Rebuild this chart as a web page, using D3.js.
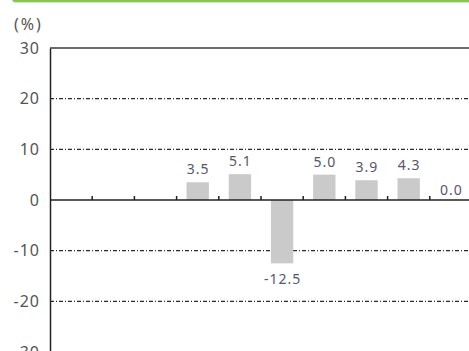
<!DOCTYPE html>
<html><head><meta charset="utf-8">
<script src="https://cdn.jsdelivr.net/npm/d3@7"></script>
<style>
html,body{margin:0;padding:0;background:#fff;overflow:hidden;}
text{font-family:"Noto Sans","Open Sans",sans-serif;}
</style></head>
<body><svg id="c" width="469" height="351"></svg>
<script>
const categories = ["c1","c2","c3","c4","c5","c6","c7","c8","c9","c10"];
const values = [null, null, null, 3.5, 5.1, -12.5, 5.0, 3.9, 4.3, 0.0];
const yTicks = [30, 20, 10, 0, -10, -20, -30];
const unitLabel = "(%)";

const svg = d3.select("#c");
const mLeft = 50, mRight = 472, mTop = 48, mBottom = 352;

const x = d3.scaleBand().domain(categories).range([mLeft, mRight]).paddingInner(0.47).paddingOuter(0.235);
const y = d3.scaleLinear().domain([-30, 30]).range([mBottom, mTop]);
const step = x.step();
const edge = c => x(c) - (step - x.bandwidth()) / 2;

// green top rule
svg.append("rect").attr("x", 12).attr("y", -3).attr("width", 470).attr("height", 5)
  .attr("rx", 3).attr("fill", "#86c54f");
svg.append("line").attr("x1", 14).attr("x2", 469).attr("y1", 2.5).attr("y2", 2.5)
  .attr("stroke", "#d2eac0").attr("stroke-width", 1);

// gridlines
const grid = yTicks.filter(t => t !== 0 && t !== 30 && t !== -30);
svg.append("g").selectAll("line").data(grid).join("line")
  .attr("x1", mLeft).attr("x2", 469)
  .attr("y1", d => y(d)).attr("y2", d => y(d))
  .attr("stroke", "#2a2a2a").attr("stroke-width", 1.2)
  .attr("stroke-dasharray", "4,2,1,2");

// top border
svg.append("line").attr("x1", mLeft).attr("x2", 469).attr("y1", y(30)).attr("y2", y(30))
  .attr("stroke", "#3a3a3a").attr("stroke-width", 1.6);

// bars
const data = categories.map((c, i) => ({c, v: values[i]})).filter(d => d.v !== null);
svg.append("g").selectAll("rect").data(data).join("rect")
  .attr("x", d => x(d.c)).attr("width", x.bandwidth())
  .attr("y", d => y(Math.max(0, d.v)))
  .attr("height", d => Math.abs(y(d.v) - y(0)))
  .attr("fill", "#cacaca");

// zero line
svg.append("line").attr("x1", mLeft).attr("x2", 469).attr("y1", y(0)).attr("y2", y(0))
  .attr("stroke", "#222").attr("stroke-width", 1.5);

// category boundary ticks
svg.append("g").selectAll("line").data(categories.slice(1)).join("line")
  .attr("x1", d => edge(d)).attr("x2", d => edge(d))
  .attr("y1", y(0)).attr("y2", y(0) - 4)
  .attr("stroke", "#222").attr("stroke-width", 1.5);

// y axis
const yAxis = d3.axisLeft(y).tickValues(yTicks).tickSize(0).tickPadding(10)
  .tickFormat(d => d < 0 ? "-" + Math.abs(d) : String(d));
const ga = svg.append("g").attr("transform", `translate(${mLeft},0)`).call(yAxis);
ga.select(".domain").attr("stroke", "#222").attr("stroke-width", 1.5);
ga.selectAll("text").attr("font-size", 16).attr("fill", "#555").attr("letter-spacing", 1)
  .style("font-family", '"Noto Sans","Open Sans",sans-serif');

// unit label
svg.append("text").attr("x", 14).attr("y", 30).attr("font-size", 16).attr("letter-spacing", 2)
  .attr("fill", "#555").text(unitLabel);

// value labels
svg.append("g").selectAll("text").data(data).join("text")
  .attr("x", d => x(d.c) + x.bandwidth() / 2 + 0.5)
  .attr("y", d => d.v < 0 ? y(d.v) + 21 : y(d.v) - (d.v === 0 ? 5 : 8))
  .attr("text-anchor", "middle").attr("font-size", 14).attr("letter-spacing", 1)
  .attr("fill", "#565670")
  .text(d => d.v.toFixed(1));
</script></body></html>
